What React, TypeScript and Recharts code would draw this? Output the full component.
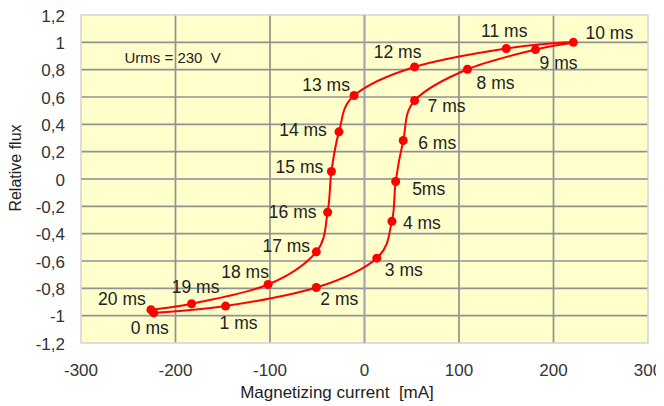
import React from 'react';
import {
  LineChart,
  Line,
  XAxis,
  YAxis,
  CartesianGrid,
  ReferenceLine,
  ReferenceArea,
  ReferenceDot,
  Label,
} from 'recharts';

// ---- data ----
const timeLabels = [
  '0 ms', '1 ms', '2 ms', '3 ms', '4 ms', '5ms', '6 ms', '7 ms', '8 ms', '9 ms', '10 ms',
  '11 ms', '12 ms', '13 ms', '14 ms', '15 ms', '16 ms', '17 ms', '18 ms', '19 ms', '20 ms',
];
const currentMA = [
  -223, -147, -51, 13, 29, 33, 41, 53, 109, 181, 221,
  150, 53, -11, -27, -35, -39, -51, -102, -183, -226,
];
const relativeFlux = [
  -0.98, -0.93, -0.794, -0.579, -0.309, -0.018, 0.282, 0.574, 0.803, 0.947, 1.0,
  0.955, 0.82, 0.611, 0.345, 0.055, -0.243, -0.533, -0.772, -0.913, -0.957,
];
const xTicks = [-300, -200, -100, 0, 100, 200, 300];
const yTicks = [-1.2, -1, -0.8, -0.6, -0.4, -0.2, 0, 0.2, 0.4, 0.6, 0.8, 1, 1.2];
const xGrid = [-200, -100, 0, 100, 200];
const yGrid = [-1, -0.8, -0.6, -0.4, -0.2, 0, 0.2, 0.4, 0.6, 0.8, 1];
const annotation = 'Urms = 230  V';

// label placement (pixel offsets from each point), styling only
const labelOffsets: [number, number][] = [
  [-4, 15], [13, 17], [23, 11], [27, 12], [30, 2], [33, 8], [34, 3], [32, 5], [28, 14], [23, 13], [36, -9],
  [-2, -17], [-17, -15], [-28, -10], [-36, -2], [-32, -4], [-35, 0], [-30, -6], [-23, -13], [4, -17], [-29, -11],
];

const data = currentMA.map((x, i) => ({ x, y: relativeFlux[i], label: timeLabels[i] }));

const FONT = "'Liberation Sans', Arial, sans-serif";
const RED = '#ff0000';

// Catmull-Rom style smoothing (similar to Excel's smoothed lines)
const smoothCurve = (context: any) => {
  let pts: [number, number][] = [];
  return {
    areaStart() {},
    areaEnd() {},
    lineStart() {
      pts = [];
    },
    point(x: number, y: number) {
      pts.push([+x, +y]);
    },
    lineEnd() {
      if (!pts.length) return;
      context.moveTo(pts[0][0], pts[0][1]);
      for (let i = 0; i < pts.length - 1; i++) {
        const p0 = pts[i - 1] || pts[i];
        const p1 = pts[i];
        const p2 = pts[i + 1];
        const p3 = pts[i + 2] || p2;
        context.bezierCurveTo(
          p1[0] + (p2[0] - p0[0]) / 6,
          p1[1] + (p2[1] - p0[1]) / 6,
          p2[0] - (p3[0] - p1[0]) / 6,
          p2[1] - (p3[1] - p1[1]) / 6,
          p2[0],
          p2[1]
        );
      }
    },
  };
};

const fmt = (v: number) => String(Math.round(v * 10) / 10).replace('.', ',');

const XTick = (props: any) => {
  const { x, y, payload } = props;
  return (
    <text x={x} y={y + 19} textAnchor="middle" dominantBaseline="central" fontFamily={FONT} fontSize={17} fill="#333">
      {payload.value}
    </text>
  );
};

const YTick = (props: any) => {
  const { x, y, payload } = props;
  return (
    <text x={x - 8} y={y + 1} textAnchor="end" dominantBaseline="central" fontFamily={FONT} fontSize={17} fill="#333">
      {fmt(payload.value)}
    </text>
  );
};

const PointLabel = (props: any) => {
  const { x, y, index } = props;
  const off = labelOffsets[index] || [0, 0];
  return (
    <text
      x={x + off[0]}
      y={y + off[1]}
      textAnchor="middle"
      dominantBaseline="central"
      fontFamily={FONT}
      fontSize={17.5}
      fill="#222"
    >
      {timeLabels[index]}
    </text>
  );
};

export default function App() {
  return (
    <div style={{ margin: '-8px 0 0 -8px', width: 664, height: 406 }}>
      <LineChart width={664} height={406} data={data} margin={{ top: 15, right: 16, bottom: 33, left: 21 }}>
        <CartesianGrid
          fill="#ffffcc"
          stroke="#929292"
          strokeWidth={1.7}
          horizontalValues={yGrid}
          verticalValues={xGrid}
        />
        <ReferenceArea x1={-300} x2={300} y1={-1.2} y2={1.2} fill="none" stroke="#d4d4d4" strokeWidth={1.5} />
        <XAxis
          type="number"
          dataKey="x"
          domain={[-300, 300]}
          ticks={xTicks}
          tick={<XTick />}
          tickLine={false}
          axisLine={false}
          height={30}
          interval={0}
        >
          <Label
            content={() => (
              <text x={337} y={392} textAnchor="middle" dominantBaseline="central" fontFamily={FONT} fontSize={17} fill="#222">
                {'Magnetizing current\u00A0\u00A0[mA]'}
              </text>
            )}
          />
        </XAxis>
        <YAxis
          type="number"
          dataKey="y"
          domain={[-1.2, 1.2]}
          ticks={yTicks}
          tick={<YTick />}
          tickLine={false}
          axisLine={false}
          width={60}
          interval={0}
        >
          <Label
            content={() => (
              <text
                x={15}
                y={168}
                transform="rotate(-90, 15, 168)"
                textAnchor="middle"
                dominantBaseline="central"
                fontFamily={FONT}
                fontSize={16}
                fill="#222"
              >
                Relative flux
              </text>
            )}
          />
        </YAxis>
        <ReferenceLine x={0} stroke="#a4a4b4" strokeWidth={1.6} />
        <ReferenceLine y={0} stroke="#a4a4b4" strokeWidth={1.6} />
        <ReferenceDot
          x={-203}
          y={0.89}
          r={0}
          stroke="none"
          fill="none"
          label={{
            value: annotation.replace(/ /g, '\u00A0'),
            position: 'center',
            fontFamily: FONT,
            fontSize: 15,
            fill: '#222',
          }}
        />
        <Line
          dataKey="y"
          type={smoothCurve as any}
          stroke={RED}
          strokeWidth={2}
          dot={{ r: 4.5, fill: RED, stroke: RED, strokeWidth: 0 }}
          activeDot={false}
          isAnimationActive={false}
          label={<PointLabel />}
        />
      </LineChart>
    </div>
  );
}
